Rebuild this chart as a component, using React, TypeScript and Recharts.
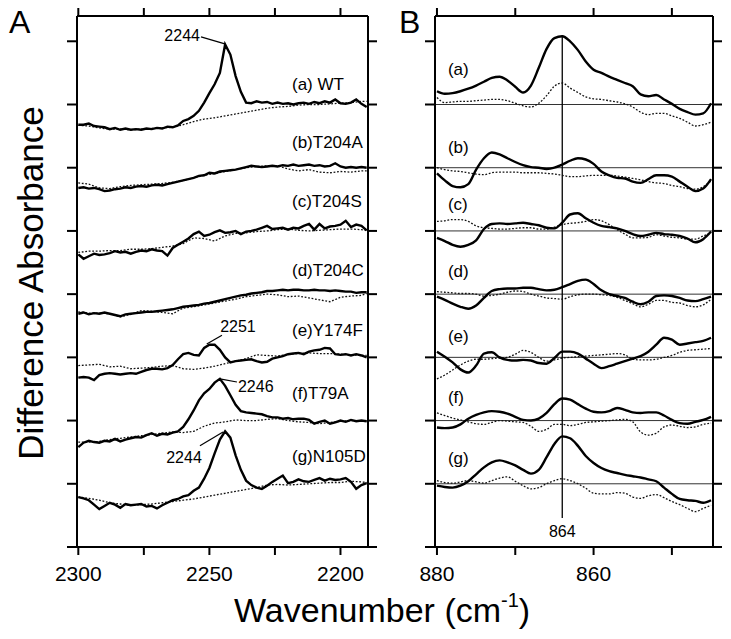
import { LineChart, Line, XAxis, YAxis, ReferenceLine, ReferenceDot } from 'recharts';

const FONT = "'Liberation Sans', Arial, Helvetica, sans-serif";

// wavenumber grids (cm-1)
const wnA = [2300, 2298, 2296, 2294, 2292, 2290, 2288, 2286, 2284, 2282, 2280, 2278, 2276, 2274, 2272, 2270, 2268, 2266, 2264, 2262, 2260, 2258, 2256, 2254, 2252, 2250, 2248, 2246, 2244, 2242, 2240, 2238, 2236, 2234, 2232, 2230, 2228, 2226, 2224, 2222, 2220, 2218, 2216, 2214, 2212, 2210, 2208, 2206, 2204, 2202, 2200, 2198, 2196, 2194, 2192, 2190];
const wnAdot = [2300, 2296, 2292, 2288, 2284, 2280, 2276, 2272, 2268, 2264, 2260, 2256, 2252, 2248, 2244, 2240, 2236, 2232, 2228, 2224, 2220, 2216, 2212, 2208, 2204, 2200, 2196, 2192, 2190];
const wnB = [880, 879, 878, 877, 876, 875, 874, 873, 872, 871, 870, 869, 868, 867, 866, 865, 864, 863, 862, 861, 860, 859, 858, 857, 856, 855, 854, 853, 852, 851, 850, 849, 848, 847, 846, 845];

const ticksA = [2300, 2275, 2250, 2225, 2200];
const ticksB = [880, 870, 860, 850];
const labeledA = [2300, 2250, 2200];
const labeledB = [880, 860];
const ticksY = [0, 10, 20, 30, 40, 50, 60, 70, 80];

// vertical offset of each trace (a..g)
const offsets = [70, 60, 50, 40, 30, 20, 10];
const namesA = ['(a) WT', '(b)T204A', '(c)T204S', '(d)T204C', '(e)Y174F', '(f)T79A', '(g)N105D'];
const namesB = ['(a)', '(b)', '(c)', '(d)', '(e)', '(f)', '(g)'];

// panel A, solid traces (difference around each baseline)
const aSolid = [-3.2, -3.2, -3.0, -3.4, -3.5, -3.6, -3.9, -3.7, -4.0, -3.8, -4.0, -3.9, -4.0, -3.8, -3.9, -3.7, -3.8, -3.5, -3.6, -3.3, -2.6, -2.3, -1.8, -1.0, 0.3, 1.8, 3.2, 5.0, 9.5, 7.9, 4.5, 2.0, 0.3, 0.2, 0.5, 0.3, 0.4, 0.1, 0.3, 0.1, 0.2, 0.0, 0.2, 0.3, 0.1, 0.4, 0.2, 0.5, 0.3, 0.8, 0.2, 0.1, 0.3, 0.8, 0.1, -0.4];
const bSolid = [-3.2, -3.1, -3.3, -3.2, -3.4, -3.7, -3.6, -3.4, -3.3, -3.1, -3.2, -3.0, -2.9, -3.0, -2.8, -2.7, -2.8, -2.6, -2.4, -2.2, -2.0, -1.8, -1.6, -1.3, -1.2, -0.8, -0.9, -0.6, -0.5, -0.4, -0.3, -0.1, 0.1, 0.3, 0.2, 0.1, 0.2, 0.3, 0.2, 0.4, 0.3, 0.5, 0.3, 0.4, 0.5, 0.3, 0.4, 0.2, 0.3, 0.7, 0.2, 0.0, 0.1, 0.0, 0.1, 0.0];
const cSolid = [-3.7, -4.4, -4.0, -3.6, -3.8, -3.7, -3.5, -3.2, -3.4, -3.3, -3.6, -3.3, -3.1, -3.2, -2.9, -3.1, -3.2, -3.9, -2.7, -2.2, -1.7, -1.2, -0.5, -0.1, -0.8, -0.6, -0.2, 0.1, -0.3, -0.2, 0.0, -0.5, -0.1, 0.0, 0.2, 0.5, 0.8, 0.3, 0.4, 0.5, 0.2, 0.5, 0.4, 0.8, 1.1, 0.2, 1.1, 0.4, 0.7, 0.8, 1.0, 1.6, 0.6, 1.0, 0.8, 0.1];
const dSolid = [-3.1, -2.9, -3.2, -3.0, -3.1, -2.9, -3.1, -3.3, -3.5, -3.2, -3.1, -3.0, -2.9, -2.8, -2.8, -2.7, -2.6, -2.5, -2.4, -2.2, -2.0, -1.9, -1.8, -1.7, -1.5, -1.4, -1.2, -1.0, -0.8, -0.6, -0.4, -0.2, -0.1, 0.1, 0.2, 0.3, 0.5, 0.5, 0.6, 0.7, 0.6, 0.7, 0.7, 0.6, 0.6, 0.7, 0.6, 0.6, 0.5, 0.6, 0.5, 0.4, 0.4, 0.2, 0.3, 0.3];
const eSolid = [-3.2, -3.1, -3.2, -3.6, -2.8, -2.6, -2.5, -2.6, -2.7, -2.6, -2.5, -2.6, -2.3, -2.0, -1.8, -1.8, -1.9, -1.7, -1.2, -0.3, 0.5, 0.7, 0.4, 0.3, 1.5, 2.0, 2.0, 1.2, 0.0, -0.8, -0.6, -0.5, -0.4, -0.3, -0.6, -0.8, -0.7, -0.2, 0.0, 0.2, 0.5, 0.6, 0.7, 0.5, 0.9, 1.1, 1.2, 1.5, 1.4, 0.5, 0.4, 0.5, 0.3, 0.5, 0.3, 0.0];
const fSolid = [-4.2, -3.5, -3.2, -3.4, -3.5, -3.2, -3.3, -2.9, -3.3, -3.0, -2.8, -2.6, -2.7, -2.3, -2.0, -2.4, -2.1, -2.2, -1.9, -1.7, -1.0, 0.2, 1.6, 3.2, 4.3, 5.0, 6.0, 6.6, 5.5, 4.0, 2.5, 1.5, 1.3, 1.2, 1.1, 1.0, 0.7, 0.5, 0.5, 0.3, 0.4, 0.2, 0.3, 0.3, 0.1, -0.5, -0.2, 0.0, -0.5, -0.3, 0.0, -0.2, 0.1, -0.1, 0.0, -0.1];
const gSolid = [-2.1, -2.3, -2.6, -3.3, -4.0, -3.5, -3.0, -3.3, -3.8, -3.2, -3.4, -3.3, -3.2, -3.6, -3.5, -3.9, -3.4, -3.0, -2.6, -2.4, -2.0, -1.8, -1.1, -0.6, 0.8, 2.5, 4.8, 7.0, 8.3, 7.3, 4.5, 2.2, 0.5, -0.2, -0.6, -0.8, -0.3, 0.3, 0.8, 1.3, 0.1, 0.3, 0.7, 0.4, 0.3, 0.6, 0.9, 0.5, 0.8, 0.6, 0.7, 0.9, 0.3, -0.8, -0.2, 0.1];

// panel A, dotted traces
const aDot = [-3.3, -3.4, -3.7, -3.9, -3.9, -4.0, -3.9, -3.8, -3.7, -3.6, -3.2, -2.7, -2.3, -2.1, -1.8, -1.5, -1.2, -0.9, -0.6, -0.4, -0.3, -0.1, 0.0, 0.0, 0.1, 0.2, 0.3, 0.5, 0.5];
const bDot = [-2.4, -2.6, -3.2, -3.3, -3.0, -2.8, -2.7, -2.6, -2.5, -2.3, -2.0, -1.6, -1.2, -0.9, -0.6, -0.3, 0.0, 0.2, 0.3, 0.3, -0.2, -0.5, -0.3, -0.7, -0.8, -0.6, -0.7, -0.5, -0.5];
const cDot = [-3.4, -3.2, -3.2, -3.1, -3.1, -2.9, -2.9, -2.8, -2.6, -2.4, -2.0, -1.1, -1.2, -1.6, -0.8, -0.4, -0.3, -0.1, 0.0, 0.2, 0.3, 0.1, 0.0, 0.1, 0.2, 0.3, 0.3, 0.2, 0.1];
const dDot = [-2.8, -3.0, -3.0, -3.1, -3.6, -3.2, -2.6, -2.7, -2.9, -3.1, -2.2, -2.0, -1.7, -1.4, -1.1, -0.8, -0.4, -0.2, 0.0, -0.1, -0.4, -0.3, -0.6, -0.9, -1.2, -0.5, -0.3, -0.2, 0.1];
const eDot = [-1.3, -1.2, -1.1, -1.5, -1.4, -1.8, -1.7, -1.6, -1.4, -1.3, -1.8, -1.9, -1.7, -1.4, -1.0, -0.6, -0.2, 0.4, 0.3, 0.2, 0.5, 0.6, 0.7, 0.6, 0.6, 0.5, 0.4, 0.3, 0.3];
const fDot = [-3.4, -3.4, -3.3, -3.0, -2.8, -2.6, -2.4, -2.2, -2.0, -1.8, -1.9, -1.7, -0.9, -0.4, -0.2, 0.1, 0.0, 0.0, 0.2, 0.3, 0.0, -0.2, -0.3, -0.5, -0.3, -0.1, 0.0, -0.1, -0.1];
const gDot = [-2.1, -2.3, -2.6, -3.0, -3.2, -3.4, -3.3, -3.2, -3.0, -2.8, -2.6, -2.4, -2.1, -1.8, -1.5, -1.2, -0.9, -0.6, -0.2, -0.1, -0.2, -0.1, 0.0, 0.1, 0.2, 0.2, 0.4, 0.3, 0.2];

// panel B, solid traces
const aSolidB = [2.1, 1.7, 1.8, 2.1, 2.5, 3.0, 3.6, 4.2, 4.4, 3.8, 2.8, 1.9, 3.0, 5.8, 8.8, 10.5, 10.8, 10.0, 8.6, 6.8, 5.5, 5.0, 4.4, 3.9, 3.4, 2.9, 1.6, 1.3, 1.5, 0.8, 0.1, -0.7, -1.2, -1.6, -1.4, 0.2];
const bSolidB = [-0.9, -2.0, -2.9, -3.1, -2.6, -0.3, 1.5, 2.4, 2.1, 1.5, 0.9, 0.4, 0.1, 0.0, -0.2, 0.0, 0.5, 1.1, 1.5, 1.3, 0.6, -0.6, -1.2, -1.6, -1.7, -2.2, -2.4, -1.8, -1.2, -1.2, -1.4, -2.2, -3.0, -3.7, -3.3, -1.8];
const cSolidB = [-1.1, -1.6, -2.2, -2.5, -2.2, -1.5, 0.3, 1.1, 1.2, 1.1, 1.2, 1.3, 1.1, 0.9, 0.5, 0.4, 1.3, 2.6, 2.8, 2.0, 1.3, 0.8, 0.6, 0.4, 0.0, -0.5, -0.8, -0.6, -0.3, -0.5, -0.6, -0.8, -1.2, -1.8, -1.3, -0.1];
const dSolidB = [-0.4, -0.9, -1.5, -2.0, -2.3, -1.8, -0.6, 0.5, 0.8, 0.9, 0.9, 1.0, 1.0, 0.8, 0.6, 0.7, 1.1, 1.6, 2.1, 2.3, 1.6, 0.6, 0.0, -0.3, -0.6, -1.2, -1.6, -1.2, -0.3, -0.2, -0.3, -0.6, -1.0, -1.1, -0.8, -0.4];
const eSolidB = [0.9, 0.1, -0.8, -1.9, -2.4, -1.3, 0.6, 0.8, 0.0, -0.4, -0.5, -0.4, -0.5, -0.9, -1.0, -0.1, 0.9, 0.9, 0.6, -0.2, -1.0, -1.7, -1.4, -1.0, -0.6, -0.2, 0.2, 0.9, 2.0, 3.1, 2.8, 2.0, 2.2, 2.4, 2.6, 3.1];
const fSolidB = [-1.1, -1.2, -1.1, -0.6, 0.3, 0.9, 1.3, 1.5, 1.4, 1.1, 0.6, 0.1, 0.0, 0.3, 1.2, 2.6, 3.5, 3.3, 2.6, 1.9, 1.4, 1.3, 1.5, 2.0, 1.7, 1.3, 1.2, 1.3, 1.3, 0.8, 0.1, -0.4, -0.5, -0.2, 0.1, 0.6];
const gSolidB = [-0.3, -0.5, -0.6, -0.3, 0.4, 1.5, 2.6, 3.4, 3.7, 3.4, 2.9, 2.2, 1.6, 2.2, 4.2, 6.3, 7.5, 7.2, 6.0, 4.4, 3.3, 2.5, 2.0, 1.7, 1.4, 1.2, 1.0, 0.7, 0.4, -0.6, -1.6, -2.4, -2.6, -2.7, -3.0, -2.6];

// panel B, dotted traces
const aDotB = [1.1, 0.3, 0.4, 0.5, 0.5, 0.6, 0.7, 0.8, 0.8, 0.6, 0.2, -0.2, -0.4, 0.2, 1.4, 2.9, 3.4, 2.6, 1.9, 1.2, 0.9, 0.8, 0.6, 0.4, 0.1, -0.4, -1.2, -1.6, -1.4, -1.4, -1.8, -2.2, -2.8, -3.4, -3.2, -2.8];
const bDotB = [0.0, -0.3, -0.5, -0.6, -0.8, -1.0, -1.1, -0.8, -0.7, -0.7, -0.7, -0.8, -0.8, -0.8, -0.9, -1.0, -1.2, -1.4, -1.4, -1.3, -1.2, -1.2, -1.2, -1.3, -1.5, -1.7, -1.9, -2.2, -2.4, -2.5, -2.8, -3.0, -3.3, -3.4, -3.0, -2.1];
const cDotB = [1.5, 1.6, 1.8, 1.8, 1.5, 0.8, 0.5, 0.4, 0.3, 0.3, 0.4, 0.5, 0.5, 0.3, 0.3, 0.6, 1.0, 1.2, 1.3, 1.5, 1.8, 1.6, 1.0, 0.2, -0.5, -1.1, -1.1, -1.0, -0.6, -0.8, -1.0, -1.1, -1.3, -1.3, -0.8, -0.3];
const dDotB = [0.4, 0.3, 0.2, 0.1, 0.1, 0.0, -0.3, -0.2, 0.0, 0.3, 0.5, 0.4, 0.0, -0.3, -0.6, -0.7, -0.8, -0.4, -0.1, 0.0, 0.0, -0.1, -0.2, -0.5, -1.0, -1.5, -2.0, -1.6, -1.0, -1.0, -1.3, -1.4, -1.8, -2.0, -1.7, -0.8];
const eDotB = [-3.4, -2.8, -2.0, -1.2, -0.6, -0.3, -0.3, -0.2, -0.1, 0.0, 0.5, 1.1, 0.8, 0.0, -0.6, -0.4, -0.1, 0.0, 0.1, 0.2, 0.3, 0.4, 0.5, 0.6, 0.4, -0.3, -0.4, -0.4, -0.3, 0.0, 0.3, 0.8, 1.1, 1.2, 1.3, 1.4];
const fDotB = [1.2, 0.8, 0.4, 0.1, -0.2, -0.5, -0.6, -0.3, 0.0, -0.1, -0.2, -0.3, -0.9, -1.7, -1.4, -0.6, -0.6, -0.8, -0.6, -0.3, -0.2, -0.1, 0.0, 0.1, 0.2, -0.2, -1.8, -2.3, -2.0, -1.0, -0.7, -0.9, -1.1, -1.0, -0.6, -0.4];
const gDotB = [0.5, 0.2, 0.1, 0.3, 0.5, 0.3, 0.1, 0.5, 0.9, 1.1, 0.4, -0.3, -0.8, -0.6, 0.0, 0.5, 0.8, 0.5, 0.0, -0.7, -1.5, -1.6, -1.6, -1.4, -1.5, -2.1, -2.3, -1.9, -1.7, -2.2, -2.8, -3.3, -3.9, -4.4, -3.9, -3.4];

const solidA = [aSolid, bSolid, cSolid, dSolid, eSolid, fSolid, gSolid];
const dotA = [aDot, bDot, cDot, dDot, eDot, fDot, gDot];
const solidB = [aSolidB, bSolidB, cSolidB, dSolidB, eSolidB, fSolidB, gSolidB];
const dotB = [aDotB, bDotB, cDotB, dDotB, eDotB, fDotB, gDotB];

// where the trace names sit (data coords)
const nameXA = 2218.5;
const nameYA = [72.3, 63.1, 53.8, 42.9, 33.4, 23.4, 13.4];
const nameXB = 878.6;
const nameYB = [74.7, 62.3, 53.3, 42.7, 32.4, 22.8, 13.1];

// peak annotations in panel A
const peaksA = [
  { text: '2244', tx: 2253.6, ty: 80.1, anchor: 'end', x1: 2253.2, y1: 80.7, x2: 2244.1, y2: 79.6 },
  { text: '2251', tx: 2245.9, ty: 34.0, anchor: 'start', x1: 2245.2, y1: 33.5, x2: 2251.0, y2: 32.1 },
  { text: '2246', tx: 2239.1, ty: 24.5, anchor: 'start', x1: 2246.0, y1: 26.6, x2: 2239.5, y2: 26.1 },
  { text: '2244', tx: 2252.9, ty: 13.3, anchor: 'end', x1: 2253.6, y1: 16.0, x2: 2244.8, y2: 18.2 },
];

const toPts = (xs: number[], ys: number[], off: number) => xs.map((x, i) => ({ x, y: off + ys[i] }));

const textShape = (s: string, anchor: string, size: number) => (p: any) => (
  <text x={p.cx} y={p.cy} textAnchor={anchor} fontSize={size} fontFamily={FONT} fill="#000">{s}</text>
);

const axisStroke = { stroke: '#000', strokeWidth: 2 };
const blank = () => '';

function Panel({ which }: { which: 'A' | 'B' }) {
  const isA = which === 'A';
  const domain = isA ? [2189.5, 2300.5] : [844.75, 880.25];
  const ticks = isA ? ticksA : ticksB;
  const labeled = isA ? labeledA : labeledB;
  const solids = isA ? solidA : solidB;
  const dots = isA ? dotA : dotB;
  const xs = isA ? wnA : wnB;
  const xsDot = isA ? wnAdot : wnB;
  const margin = isA ? { top: 8, left: 67, right: 22, bottom: 62 } : { top: 8, left: 25, right: 8, bottom: 62 };
  const curve = isA ? 'linear' : 'monotone';

  return (
    <LineChart width={isA ? 400 : 331} height={639} margin={margin}>
      <XAxis xAxisId="b" type="number" dataKey="x" domain={domain} reversed allowDataOverflow
        ticks={ticks} interval={0} height={30} tickSize={8} tickMargin={11}
        axisLine={axisStroke} tickLine={axisStroke}
        tick={{ fontSize: 21, fill: '#000', fontFamily: FONT }}
        tickFormatter={(v: number) => (labeled.includes(v) ? String(v) : '')} />
      <XAxis xAxisId="t" orientation="top" type="number" dataKey="x" domain={domain} reversed allowDataOverflow
        ticks={ticks} interval={0} height={8} tickSize={8}
        axisLine={axisStroke} tickLine={axisStroke} tickFormatter={blank} />
      <YAxis yAxisId="l" type="number" domain={[0, 84]} ticks={ticksY} interval={0} allowDataOverflow
        width={10} tickSize={10} axisLine={axisStroke} tickLine={axisStroke} tickFormatter={blank} />
      <YAxis yAxisId="r" orientation="right" type="number" domain={[0, 84]} ticks={ticksY} interval={0} allowDataOverflow
        width={10} tickSize={9} axisLine={axisStroke} tickLine={axisStroke} tickFormatter={blank} />

      {!isA && offsets.map((o) => (
        <ReferenceLine key={'h' + o} xAxisId="b" yAxisId="l" y={o} stroke="#333" strokeWidth={1} />
      ))}
      {!isA && (
        <ReferenceLine xAxisId="b" yAxisId="l" segment={[{ x: 864, y: 80.9 }, { x: 864, y: 4.6 }]} stroke="#000" strokeWidth={1.3} />
      )}

      {dots.map((ys, i) => (
        <Line key={'d' + i} xAxisId="b" yAxisId="l" data={toPts(xsDot, ys, offsets[i])} dataKey="y"
          type={curve} stroke="#111" strokeWidth={1.3} strokeDasharray="1.8 1.7" dot={false} activeDot={false}
          isAnimationActive={false} />
      ))}
      {solids.map((ys, i) => (
        <Line key={'s' + i} xAxisId="b" yAxisId="l" data={toPts(xs, ys, offsets[i])} dataKey="y"
          type={curve} stroke="#000" strokeWidth={2.4} dot={false} activeDot={false}
          isAnimationActive={false} />
      ))}

      {(isA ? namesA : namesB).map((n, i) => (
        <ReferenceDot key={'n' + i} xAxisId="b" yAxisId="l" x={isA ? nameXA : nameXB} y={isA ? nameYA[i] : nameYB[i]}
          r={0} shape={textShape(n, 'start', 17)} />
      ))}

      {isA && peaksA.map((p, i) => (
        <ReferenceLine key={'pl' + i} xAxisId="b" yAxisId="l" segment={[{ x: p.x1, y: p.y1 }, { x: p.x2, y: p.y2 }]}
          stroke="#000" strokeWidth={1.2} />
      ))}
      {isA && peaksA.map((p, i) => (
        <ReferenceDot key={'pt' + i} xAxisId="b" yAxisId="l" x={p.tx} y={p.ty} r={0} shape={textShape(p.text, p.anchor, 16)} />
      ))}
      {!isA && (
        <ReferenceDot xAxisId="b" yAxisId="l" x={864} y={1.6} r={0} shape={textShape('864', 'middle', 16)} />
      )}
    </LineChart>
  );
}

export default function App() {
  return (
    <div style={{ position: 'absolute', left: 0, top: 0, width: 731, height: 639, background: '#fff', overflow: 'hidden' }}>
      <div style={{ position: 'absolute', left: 0, top: 0 }}>
        <Panel which="A" />
      </div>
      <div style={{ position: 'absolute', left: 400, top: 0 }}>
        <Panel which="B" />
      </div>
      <svg width={731} height={639} style={{ position: 'absolute', left: 0, top: 0, pointerEvents: 'none' }}>
        <text x={9} y={33} fontSize={32} fontFamily={FONT} fill="#000">A</text>
        <text x={399} y={33} fontSize={32} fontFamily={FONT} fill="#000">B</text>
        <text x={43} y={283} fontSize={35} fontFamily={FONT} fill="#000" textAnchor="middle"
          transform="rotate(-90 43 283)">Difference Absorbance</text>
        <text x={234} y={622} fontSize={34} fontFamily={FONT} fill="#000">
          Wavenumber (cm<tspan fontSize={20} dy={-15}>-1</tspan><tspan dy={15}>)</tspan>
        </text>
      </svg>
    </div>
  );
}
